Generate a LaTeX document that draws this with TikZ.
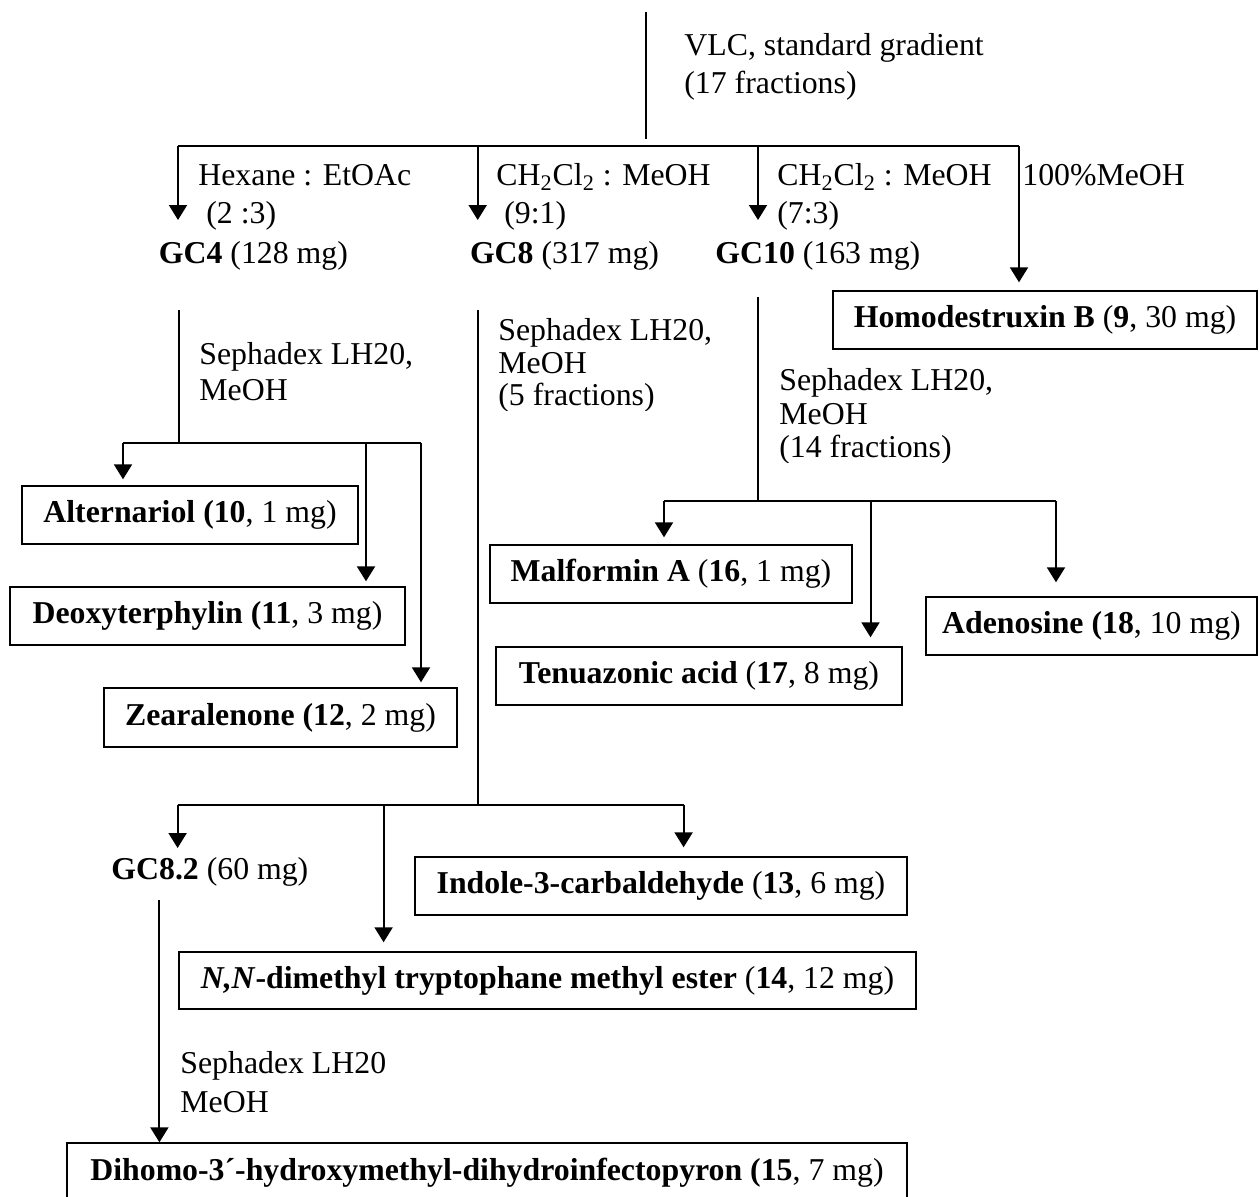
\documentclass[tikz,border=0pt]{standalone}
\usepackage{fontspec}
\setmainfont{Liberation Serif}
\usetikzlibrary{arrows.meta}
\newcommand\myfs{\fontsize{15.9}{19}\selectfont}
\begin{document}
\begin{tikzpicture}[x=0.5pt,y=-0.5pt,
  lbl/.style={anchor=base west, inner sep=0pt, font=\myfs},
  cbox/.style={draw, line width=0.7pt, inner sep=0pt, minimum height=29pt, font=\myfs, align=center},
  ln/.style={line width=1pt},
  arr/.style={line width=1pt, -{Triangle[width=9pt,length=7.5pt]}}]
\useasboundingbox (0,0) rectangle (1259,1196);
\clip (0,0) rectangle (1259,1196);
\fill[white] (0,0) rectangle (1259,1196);

% ---- top level labels
\node[lbl] (vlc1) at (684,55) {VLC, standard gradient};
\node[lbl] (vlc2) at (684,93) {(17 fractions)};
\node[lbl] (hex1) at (198,185) {Hexane : EtOAc};
\node[lbl] (hex2) at (206,223) {(2 :3)};
\node[lbl] (gc4) at (158.5,263) {\textbf{GC4} (128 mg)};
\node[lbl] (cm1) at (496,185) {CH\textsubscript{2}Cl\textsubscript{2} : MeOH};
\node[lbl] (cm2) at (504,223) {(9:1)};
\node[lbl] (gc8) at (469.6,263) {\textbf{GC8} (317 mg)};
\node[lbl] (cm3) at (777,185) {CH\textsubscript{2}Cl\textsubscript{2} : MeOH};
\node[lbl] (cm4) at (777,223) {(7:3)};
\node[lbl] (gc10) at (715,263) {\textbf{GC10} (163 mg)};
\node[lbl] (meoh) at (1022,185) {100\%MeOH};
\node[cbox, minimum width=212pt] (homo) at (1045,320) {\textbf{Homodestruxin B} (\textbf{9}, 30 mg)};

% ---- GC4 branch
\node[lbl] (sep4a) at (199,364) {Sephadex LH20,};
\node[lbl] (sep4b) at (199,400) {MeOH};
\node[cbox, minimum width=168pt] (alt) at (190,515) {\textbf{Alternariol (10}, 1 mg)};
\node[cbox, minimum width=197.5pt] (deo) at (207.5,616) {\textbf{Deoxyterphylin (11}, 3 mg)};
\node[cbox, minimum width=176.5pt, minimum height=29.5pt] (zea) at (280.5,717.5) {\textbf{Zearalenone (12}, 2 mg)};

% ---- GC8 branch
\node[lbl] (sep8a) at (498,340) {Sephadex LH20,};
\node[lbl] (sep8b) at (498,373) {MeOH};
\begin{scope}
\clip (490,370) rectangle (700,410);
\node[lbl] (sep8c) at (498,405) {(5 fractions)};
\end{scope}
\node[lbl] (gc82) at (111,879) {\textbf{GC8.2} (60 mg)};
\node[cbox, minimum width=246pt] (ind) at (661,886) {\textbf{Indole-3-carbaldehyde} (\textbf{13}, 6 mg)};
\node[cbox, minimum width=368.5pt, minimum height=28.5pt] (nn) at (547.5,980.5) {\textbf{\textit{N,N}-dimethyl tryptophane methyl ester} (\textbf{14}, 12 mg)};
\node[lbl] (sep82a) at (180,1073) {Sephadex LH20};
\node[lbl] (sep82b) at (180,1112) {MeOH};
\node[cbox, minimum width=420pt, minimum height=29.5pt] (dih) at (487,1172.5) {\textbf{Dihomo-3´-hydroxymethyl-dihydroinfectopyron (15}, 7 mg)};

% ---- GC10 branch
\node[lbl] (sep10a) at (779,390) {Sephadex LH20,};
\node[lbl] (sep10b) at (779,424) {MeOH};
\begin{scope}
\clip (770,420) rectangle (1000,462);
\node[lbl] (sep10c) at (779,457) {(14 fractions)};
\end{scope}
\node[cbox, minimum width=181pt] (mal) at (671,574) {\textbf{Malformin A} (\textbf{16}, 1 mg)};
\node[cbox, minimum width=203pt] (ten) at (699,676) {\textbf{Tenuazonic acid} (\textbf{17}, 8 mg)};
\node[cbox, minimum width=165.5pt] (ade) at (1091.5,626) {\textbf{Adenosine (18}, 10 mg)};

% ---- coordinates
\coordinate (top) at (645.5,12);
\coordinate (topend) at (645.5,139);
\coordinate (h1L) at (178,145.5);
\coordinate (h1A) at (477.7,145.5);
\coordinate (h1B) at (758,145.5);
\coordinate (h1R) at (1019,145.5);
\coordinate (t4) at (178,220);
\coordinate (t8) at (477.7,220);
\coordinate (t10) at (758,220);

\coordinate (s4a) at (179,310);
\coordinate (s4b) at (179,443);
\coordinate (h4L) at (123,443);
\coordinate (h4M) at (366,443);
\coordinate (h4R) at (421,443);

\coordinate (s8a) at (477.7,310);
\coordinate (s8b) at (477.7,805);
\coordinate (h8L) at (177.6,805);
\coordinate (h8M) at (383.6,805);
\coordinate (h8R) at (683.6,805);
\coordinate (t82) at (177.6,848);
\coordinate (s82) at (159.4,900);

\coordinate (s10a) at (758,297);
\coordinate (s10b) at (758,501);
\coordinate (h10L) at (664,501);
\coordinate (h10M) at (870.5,501);
\coordinate (h10R) at (1056,501);

% ---- connectors
\draw[ln] (top) -- (topend);
\draw[ln] (h1L) -- (h1R);
\draw[arr] (h1L) -- (t4);
\draw[arr] (h1A) -- (t8);
\draw[arr] (h1B) -- (t10);
\draw[arr, shorten >=4pt] (h1R) -- (h1R |- homo.north);

\draw[ln] (s4a) -- (s4b);
\draw[ln] (h4L) -- (h4R);
\draw[arr, shorten >=3pt] (h4L) -- (h4L |- alt.north);
\draw[arr, shorten >=2.5pt] (h4M) -- (h4M |- deo.north);
\draw[arr, shorten >=2.5pt] (h4R) -- (h4R |- zea.north);

\draw[ln] (s8a) -- (s8b);
\draw[ln] (h8L) -- (h8R);
\draw[arr] (h8L) -- (t82);
\draw[arr, shorten >=4.5pt] (h8M) -- (h8M |- nn.north);
\draw[arr, shorten >=4.5pt] (h8R) -- (h8R |- ind.north);
\draw[arr] (s82) -- (s82 |- dih.north);

\draw[ln] (s10a) -- (s10b);
\draw[ln] (h10L) -- (h10R);
\draw[arr, shorten >=3.5pt] (h10L) -- (h10L |- mal.north);
\draw[arr, shorten >=4.5pt] (h10M) -- (h10M |- ten.north);
\draw[arr, shorten >=7pt] (h10R) -- (h10R |- ade.north);
\end{tikzpicture}
\end{document}
